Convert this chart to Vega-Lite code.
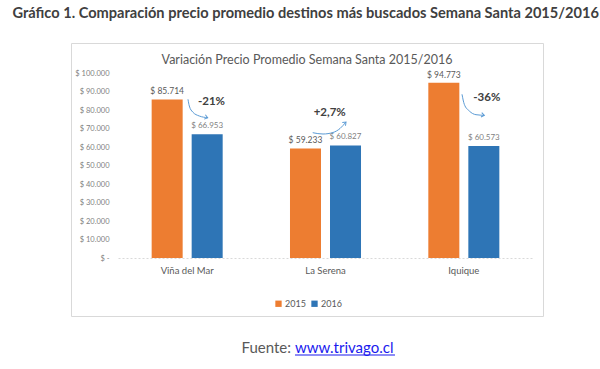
{
  "$schema": "https://vega.github.io/schema/vega-lite/v6.json",
  "padding": {"left": 12, "top": 5, "right": 5, "bottom": 5},
  "background": "white",
  "config": {
    "font": "Lato",
    "locale": {"number": {"decimal": ",", "thousands": ".", "grouping": [3], "currency": ["$ ", ""]}},
    "view": {"stroke": null}
  },
  "title": {
    "text": "Gráfico 1. Comparación precio promedio destinos más buscados Semana Santa 2015/2016",
    "anchor": "start", "dx": -58, "offset": 22,
    "fontSize": 14.6, "fontWeight": "bold", "color": "#404040", "font": "Lato"
  },
  "datasets": {
    "prices": [
      {"city": "Viña del Mar", "year": "2015", "v": 85714},
      {"city": "Viña del Mar", "year": "2016", "v": 66953},
      {"city": "La Serena", "year": "2015", "v": 59233},
      {"city": "La Serena", "year": "2016", "v": 60827},
      {"city": "Iquique", "year": "2015", "v": 94773},
      {"city": "Iquique", "year": "2016", "v": 60573}
    ],
    "arrows": [
      {"arrow": "a", "u": 0.5060, "v": 85784},
      {"arrow": "a", "u": 0.5154, "v": 82162},
      {"arrow": "a", "u": 0.5400, "v": 78919},
      {"arrow": "a", "u": 0.5877, "v": 76757},
      {"arrow": "a", "u": 0.6484, "v": 75838},
      {"arrow": "b", "u": 1.4075, "v": 67730},
      {"arrow": "b", "u": 1.4820, "v": 67027},
      {"arrow": "b", "u": 1.5543, "v": 67838},
      {"arrow": "b", "u": 1.6049, "v": 70000},
      {"arrow": "b", "u": 1.6483, "v": 73514},
      {"arrow": "c", "u": 2.4868, "v": 88486},
      {"arrow": "c", "u": 2.5034, "v": 83081},
      {"arrow": "c", "u": 2.5396, "v": 79459},
      {"arrow": "c", "u": 2.5880, "v": 77459},
      {"arrow": "c", "u": 2.6480, "v": 77135}
    ],
    "heads": [
      {"arrow": "a", "u": 0.6484, "v": 75838, "dir": 15},
      {"arrow": "b", "u": 1.6483, "v": 73514, "dir": 315},
      {"arrow": "c", "u": 2.6480, "v": 77135, "dir": 10}
    ],
    "notes": [
      {"label": "-21%", "u": 0.6759, "v": 84324},
      {"label": "+2,7%", "u": 1.5304, "v": 78541},
      {"label": "-36%", "u": 2.6661, "v": 86649}
    ],
    "footer": [{"source": "Fuente:", "link": "www.trivago.cl"}]
  },
  "spacing": 21,
  "vconcat": [
    {
      "width": 472,
      "height": 273,
      "view": {"stroke": "#d9d9d9", "strokeWidth": 1},
      "title": {
        "text": "Variación Precio Promedio Semana Santa 2015/2016",
        "anchor": "middle", "offset": -23,
        "fontSize": 12.5, "fontWeight": "normal", "color": "#595959", "font": "Lato"
      },
      "resolve": {"scale": {"x": "independent", "y": "independent"}},
      "layer": [
        {
          "data": {"name": "prices"},
          "mark": {"type": "bar"},
          "encoding": {
            "x": {
              "field": "city", "type": "nominal",
              "scale": {"domain": ["Viña del Mar", "La Serena", "Iquique"], "range": [47, 462], "paddingInner": 0.4866, "paddingOuter": 0.2433},
              "axis": {
                "orient": "bottom", "offset": -58, "title": null, "labelAngle": 0,
                "ticks": false, "grid": false, "domainColor": "#d9d9d9", "domainDash": [2, 2],
                "labelPadding": 7, "labelFontSize": 9.5, "labelColor": "#595959"
              }
            },
            "xOffset": {"field": "year", "type": "nominal", "scale": {"domain": ["2015", "2016"], "paddingInner": 0.225, "paddingOuter": 0}},
            "y": {
              "field": "v", "type": "quantitative", "title": null,
              "scale": {"domain": [0, 100000], "range": [215, 30], "nice": false},
              "axis": {
                "orient": "left", "offset": -47, "title": null, "domain": false, "ticks": false, "grid": false,
                "values": [0, 10000, 20000, 30000, 40000, 50000, 60000, 70000, 80000, 90000, 100000],
                "format": "$,.0f", "labelExpr": "datum.value == 0 ? '$ -' : datum.label",
                "labelOverlap": false,
                "labelPadding": 9, "labelFontSize": 7.5, "labelColor": "#7f7f7f"
              }
            },
            "color": {
              "field": "year", "type": "nominal",
              "scale": {"domain": ["2015", "2016"], "range": ["#ED7D31", "#2E75B6"]},
              "legend": {
                "orient": "none", "legendX": 203, "legendY": 256, "direction": "horizontal",
                "title": null, "symbolType": "square", "symbolSize": 40, "symbolStrokeWidth": 0,
                "labelFontSize": 9, "labelColor": "#595959", "columnPadding": 4, "labelOffset": 2
              }
            }
          }
        },
        {
          "data": {"name": "prices"},
          "transform": [{"filter": "datum.year == '2015'"}],
          "mark": {"type": "text", "dy": -8, "fontSize": 8.5, "color": "#595959"},
          "encoding": {
            "x": {"field": "city", "type": "nominal", "scale": {"domain": ["Viña del Mar", "La Serena", "Iquique"], "range": [47, 462], "paddingInner": 0.4866, "paddingOuter": 0.2433}, "axis": null},
            "xOffset": {"field": "year", "type": "nominal", "scale": {"domain": ["2015", "2016"], "paddingInner": 0.225, "paddingOuter": 0}},
            "y": {"field": "v", "type": "quantitative", "scale": {"domain": [0, 100000], "range": [215, 30], "nice": false}, "axis": null},
            "text": {"field": "v", "type": "quantitative", "format": "$,.0f"}
          }
        },
        {
          "data": {"name": "prices"},
          "transform": [{"filter": "datum.year == '2016'"}],
          "mark": {"type": "text", "dy": -8, "fontSize": 8, "color": "#7f7f7f"},
          "encoding": {
            "x": {"field": "city", "type": "nominal", "scale": {"domain": ["Viña del Mar", "La Serena", "Iquique"], "range": [47, 462], "paddingInner": 0.4866, "paddingOuter": 0.2433}, "axis": null},
            "xOffset": {"field": "year", "type": "nominal", "scale": {"domain": ["2015", "2016"], "paddingInner": 0.225, "paddingOuter": 0}},
            "y": {"field": "v", "type": "quantitative", "scale": {"domain": [0, 100000], "range": [215, 30], "nice": false}, "axis": null},
            "text": {"field": "v", "type": "quantitative", "format": "$,.0f"}
          }
        },
        {
          "data": {"name": "arrows"},
          "mark": {"type": "line", "interpolate": "monotone", "color": "#5B9BD5", "strokeWidth": 1},
          "encoding": {
            "x": {"field": "u", "type": "quantitative", "scale": {"domain": [0, 3], "range": [47, 462]}, "axis": null},
            "y": {"field": "v", "type": "quantitative", "scale": {"domain": [0, 100000], "range": [215, 30], "nice": false}, "axis": null},
            "detail": {"field": "arrow"}
          }
        },
        {
          "data": {"name": "heads"},
          "mark": {"type": "point", "shape": "M-1,-0.75L0,0L-1,0.75", "filled": false, "color": "#5B9BD5", "strokeWidth": 1, "size": 36, "opacity": 1},
          "encoding": {
            "x": {"field": "u", "type": "quantitative", "scale": {"domain": [0, 3], "range": [47, 462]}, "axis": null},
            "y": {"field": "v", "type": "quantitative", "scale": {"domain": [0, 100000], "range": [215, 30], "nice": false}, "axis": null},
            "angle": {"field": "dir", "type": "quantitative", "scale": null}
          }
        },
        {
          "data": {"name": "notes"},
          "mark": {"type": "text", "fontWeight": "bold", "fontSize": 11.5, "color": "#404040", "baseline": "middle"},
          "encoding": {
            "x": {"field": "u", "type": "quantitative", "scale": {"domain": [0, 3], "range": [47, 462]}, "axis": null},
            "y": {"field": "v", "type": "quantitative", "scale": {"domain": [0, 100000], "range": [215, 30], "nice": false}, "axis": null},
            "text": {"field": "label"}
          }
        }
      ]
    },
    {
      "width": 472,
      "height": 20,
      "data": {"name": "footer"},
      "layer": [
        {
          "mark": {"type": "text", "align": "right", "baseline": "middle", "fontSize": 15, "color": "#595959"},
          "encoding": {
            "x": {"datum": 0.466, "type": "quantitative", "scale": {"domain": [0, 1]}, "axis": null},
            "y": {"datum": 0.5, "type": "quantitative", "scale": {"domain": [0, 1]}, "axis": null},
            "text": {"field": "source"}
          }
        },
        {
          "mark": {"type": "text", "align": "left", "baseline": "middle", "fontSize": 15, "color": "#1a1aee"},
          "encoding": {
            "x": {"datum": 0.4746, "type": "quantitative"},
            "y": {"datum": 0.5, "type": "quantitative"},
            "text": {"field": "link"}
          }
        },
        {
          "mark": {"type": "rule", "color": "#1a1aee", "strokeWidth": 1.2},
          "encoding": {
            "x": {"datum": 0.4746, "type": "quantitative"},
            "x2": {"datum": 0.6864},
            "y": {"datum": 0.15, "type": "quantitative"}
          }
        }
      ]
    }
  ]
}
